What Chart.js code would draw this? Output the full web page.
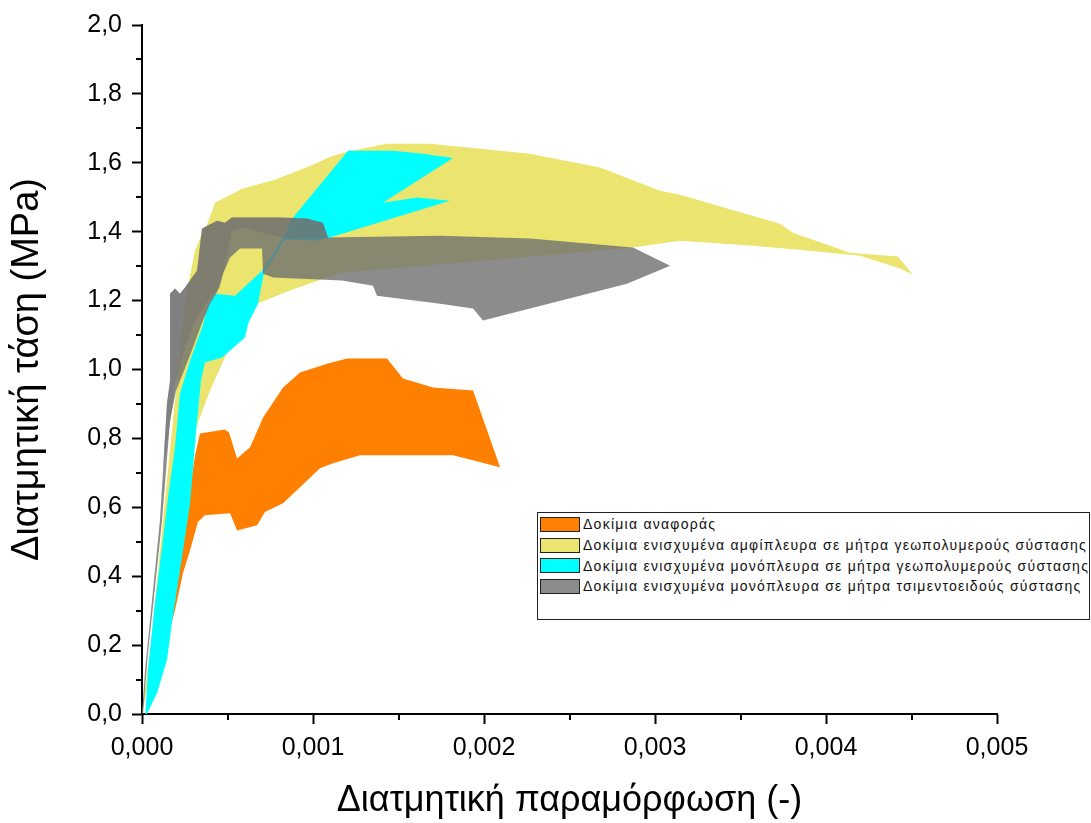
<!DOCTYPE html>
<html lang="el">
<head>
<meta charset="utf-8">
<title>Διατμητική τάση - παραμόρφωση</title>
<script src="https://cdn.jsdelivr.net/npm/chart.js@4.4.1/dist/chart.umd.min.js"></script>
<style>
    html, body { margin: 0; padding: 0; background: #fff; }
    #wrap { position: relative; width: 1091px; height: 823px; }
    #legend {
        position: absolute; left: 537px; top: 512px; width: 553px; height: 108px;
        box-sizing: border-box; border: 1.5px solid #222; background: #fff;
        padding-top: 1px;
        font-family: 'Liberation Sans', Arial, sans-serif; font-size: 14px;
        letter-spacing: 1.25px; color: #111;
    }
    #legend .row { display: flex; align-items: center; height: 20.7px; white-space: nowrap; }
    #legend .swatch { flex: none; width: 38px; height: 13px; border: 1.5px solid #222; margin: 0 3px 0 2px; }
</style>
</head>
<body>
<div id="wrap">
    <canvas id="chart" width="1091" height="823"></canvas>
    <div id="legend"></div>
</div>
<script>
// Envelopes of the shear stress - shear strain curves, traced as closed outlines (strain, MPa)
const refStrain = [0.000164, 0.000193, 0.000234, 0.000269, 0.000310, 0.000339, 0.000485, 0.000509, 0.000556, 0.000632,
    0.000708, 0.000825, 0.000924, 0.001082, 0.001199, 0.001433, 0.001526, 0.001702, 0.001936, 0.002094,
    0.001819, 0.001275, 0.001117, 0.001041, 0.000924, 0.000825, 0.000719, 0.000673, 0.000556, 0.000515,
    0.000368, 0.000327, 0.000281, 0.000240, 0.000193];
const refStress = [0.249, 0.359, 0.490, 0.612, 0.751, 0.814, 0.826, 0.817, 0.742, 0.774,
    0.861, 0.948, 0.991, 1.017, 1.032, 1.032, 0.974, 0.948, 0.939, 0.716,
    0.751, 0.751, 0.728, 0.713, 0.658, 0.612, 0.586, 0.548, 0.533, 0.583,
    0.577, 0.557, 0.475, 0.409, 0.301];

const geoBothStrain = [0, 0.000047, 0.000094, 0.000140, 0.000187, 0.000228, 0.000263, 0.000310, 0.000357, 0.000380,
    0.000427, 0.000585, 0.000778, 0.000982, 0.001099, 0.001199, 0.001433, 0.001684, 0.001977, 0.002269,
    0.002678, 0.003029, 0.003146, 0.003731, 0.003807, 0.004140, 0.004421, 0.004509, 0.004433, 0.004199,
    0.003906, 0.003573, 0.003146, 0.002871, 0.002327, 0.001860, 0.001158, 0.001082, 0.000865, 0.000673,
    0.000602, 0.000503, 0.000398, 0.000310, 0.000251, 0.000193, 0.000135, 0.000076, 0.000029];
const geoBothStress = [0, 0.186, 0.417, 0.649, 0.881, 1.084, 1.229, 1.345, 1.403, 1.420,
    1.484, 1.525, 1.551, 1.591, 1.617, 1.632, 1.655, 1.655, 1.641, 1.626,
    1.586, 1.519, 1.507, 1.423, 1.397, 1.339, 1.328, 1.275, 1.293, 1.330,
    1.345, 1.359, 1.374, 1.354, 1.330, 1.310, 1.281, 1.267, 1.229, 1.191,
    1.142, 1.055, 0.939, 0.823, 0.707, 0.562, 0.388, 0.214, 0.070];

const geoOneStrain = [0.000020, 0.000035, 0.000076, 0.000117, 0.000152, 0.000193, 0.000222, 0.000281, 0.000351, 0.000386,
    0.000427, 0.000544, 0.000702, 0.000825, 0.000883, 0.001205, 0.001468, 0.001643, 0.001819, 0.001409,
    0.001608, 0.001801, 0.001099, 0.001023, 0.000836, 0.000713, 0.000678, 0.000620, 0.000602, 0.000468,
    0.000368, 0.000345, 0.000322, 0.000281, 0.000234, 0.000175, 0.000146, 0.000088, 0.000029];
const geoOneStress = [0, 0.128, 0.322, 0.484, 0.629, 0.774, 0.930, 1.026, 1.122, 1.186,
    1.220, 1.214, 1.287, 1.383, 1.441, 1.635, 1.635, 1.626, 1.614, 1.484,
    1.499, 1.490, 1.383, 1.374, 1.377, 1.281, 1.191, 1.133, 1.093, 1.035,
    1.020, 0.968, 0.852, 0.612, 0.455, 0.264, 0.157, 0.061, 0];

const cemOneStrain = [0, 0.000018, 0.000047, 0.000076, 0.000105, 0.000123, 0.000146, 0.000164, 0.000164, 0.000193,
    0.000222, 0.000251, 0.000322, 0.000351, 0.000439, 0.000485, 0.000526, 0.000807, 0.000965, 0.001058,
    0.001088, 0.001743, 0.002269, 0.002871, 0.003088, 0.002836, 0.001994, 0.001936, 0.001743, 0.001374,
    0.001351, 0.001170, 0.000766, 0.000708, 0.000702, 0.000573, 0.000515, 0.000474, 0.000444, 0.000398,
    0.000351, 0.000298, 0.000246, 0.000199, 0.000164, 0.000117, 0.000076, 0.000035, 0.000006];
const cemOneStress = [0, 0.128, 0.272, 0.417, 0.562, 0.707, 0.901, 0.968, 1.220, 1.235,
    1.220, 1.238, 1.287, 1.409, 1.432, 1.426, 1.441, 1.441, 1.438, 1.426,
    1.383, 1.388, 1.380, 1.354, 1.301, 1.249, 1.142, 1.177, 1.191, 1.214,
    1.243, 1.258, 1.267, 1.278, 1.351, 1.351, 1.325, 1.278, 1.229, 1.191,
    1.136, 1.064, 0.997, 0.939, 0.852, 0.562, 0.368, 0.177, 0];

// part of the cement-matrix band where two specimens overlap (darker)
const cemOverlapStrain = [0.000123, 0.000146, 0.000164, 0.000164, 0.000193, 0.000222, 0.000251, 0.000322, 0.000351, 0.000439,
    0.000485, 0.000526, 0.000807, 0.000965, 0.001058, 0.001088, 0.000924, 0.000825, 0.000702, 0.000602,
    0.000526, 0.000503, 0.000485, 0.000456, 0.000404, 0.000310, 0.000251, 0.000199, 0.000152];
const cemOverlapStress = [0.707, 0.901, 0.968, 1.220, 1.235, 1.220, 1.238, 1.287, 1.409, 1.432,
    1.426, 1.441, 1.441, 1.438, 1.426, 1.383, 1.380, 1.383, 1.397, 1.414,
    1.403, 1.345, 1.307, 1.238, 1.214, 1.142, 1.064, 0.968, 0.803];

const seriesLabels = [
    'Δοκίμια αναφοράς',
    'Δοκίμια ενισχυμένα αμφίπλευρα σε μήτρα γεωπολυμερούς σύστασης',
    'Δοκίμια ενισχυμένα μονόπλευρα σε μήτρα γεωπολυμερούς σύστασης',
    'Δοκίμια ενισχυμένα μονόπλευρα σε μήτρα τσιμεντοειδούς σύστασης'
];

const xTicks = { min: 0, max: 0.005, step: 0.001 };
const yTicks = { min: 0, max: 2.0, step: 0.2 };

const FONT = "'Liberation Sans', Arial, sans-serif";
Chart.defaults.font.family = FONT;
Chart.defaults.color = '#000';

const toPoints = (xs, ys) => xs.map((x, i) => ({ x, y: ys[i] }));

// closed outline filled as a shape
const band = (label, xs, ys, color, order, inLegend = true) => ({
    label, data: toPoints(xs, ys), order, inLegend,
    showLine: true, fill: 'shape', clip: false,
    backgroundColor: color, borderColor: 'transparent', borderWidth: 0,
    pointRadius: 0, pointHoverRadius: 0
});

const datasets = [
    band(seriesLabels[0], refStrain, refStress, '#FF8000', 4),
    band(seriesLabels[1], geoBothStrain, geoBothStress, '#EBE46E', 5),
    band(seriesLabels[2], geoOneStrain, geoOneStress, '#00FFFF', 3),
    band(seriesLabels[3], cemOneStrain, cemOneStress, 'rgba(111,111,111,0.8)', 2),
    band('', cemOverlapStrain, cemOverlapStress, 'rgba(111,111,111,0.42)', 1, false)
];

// short ticks halfway between the labelled ones
const minorTicks = {
    id: 'minorTicks',
    afterDraw(chart) {
        const { ctx, scales: { x, y } } = chart;
        ctx.save();
        ctx.strokeStyle = '#000';
        ctx.lineWidth = 2;
        ctx.beginPath();
        for (let i = 1; i < x.ticks.length; i++) {
            const px = Math.round(x.getPixelForValue((x.ticks[i - 1].value + x.ticks[i].value) / 2));
            ctx.moveTo(px, x.top);
            ctx.lineTo(px, x.top + 6);
        }
        for (let i = 1; i < y.ticks.length; i++) {
            const py = Math.round(y.getPixelForValue((y.ticks[i - 1].value + y.ticks[i].value) / 2));
            ctx.moveTo(y.right, py);
            ctx.lineTo(y.right - 6, py);
        }
        ctx.stroke();
        ctx.restore();
    }
};

const axisGrid = { drawOnChartArea: false, drawTicks: true, tickLength: 10, tickWidth: 2, tickColor: '#000' };
const axisBorder = { display: true, color: '#000', width: 2 };

new Chart(document.getElementById('chart'), {
    type: 'scatter',
    data: { datasets },
    plugins: [minorTicks],
    options: {
        responsive: false,
        animation: false,
        devicePixelRatio: 1,
        layout: { padding: { left: 0, top: 24, right: 94, bottom: 0 } },
        plugins: {
            legend: { display: false },
            tooltip: { enabled: false }
        },
        scales: {
            x: {
                type: 'linear', min: xTicks.min, max: xTicks.max,
                afterFit: (s) => { s.height = 109; },
                border: axisBorder,
                grid: axisGrid,
                ticks: {
                    stepSize: xTicks.step, padding: 9, color: '#000',
                    font: { size: 25 },
                    callback: (v) => v.toFixed(3).replace('.', ',')
                },
                title: {
                    display: true, text: 'Διατμητική παραμόρφωση (-)', color: '#000',
                    font: { size: 36, lineHeight: 1.2 }, padding: { top: 0, bottom: 0 }
                }
            },
            y: {
                type: 'linear', min: yTicks.min, max: yTicks.max,
                afterFit: (s) => { s.width = 142; },
                border: axisBorder,
                grid: axisGrid,
                ticks: {
                    stepSize: yTicks.step, padding: 10, color: '#000',
                    font: { size: 25 },
                    callback: (v) => v.toFixed(1).replace('.', ',')
                },
                title: {
                    display: true, text: 'Διατμητική τάση (MPa)', color: '#000',
                    font: { size: 38, lineHeight: 1.2 }, padding: { top: 5, bottom: 0 }
                }
            }
        }
    }
});

// boxed legend inside the plot
const legendBox = document.getElementById('legend');
datasets.filter(d => d.inLegend).forEach(d => {
    const row = document.createElement('div');
    row.className = 'row';
    const sw = document.createElement('span');
    sw.className = 'swatch';
    sw.style.background = d.backgroundColor;
    const txt = document.createElement('span');
    txt.textContent = d.label;
    row.appendChild(sw);
    row.appendChild(txt);
    legendBox.appendChild(row);
});
</script>
</body>
</html>
